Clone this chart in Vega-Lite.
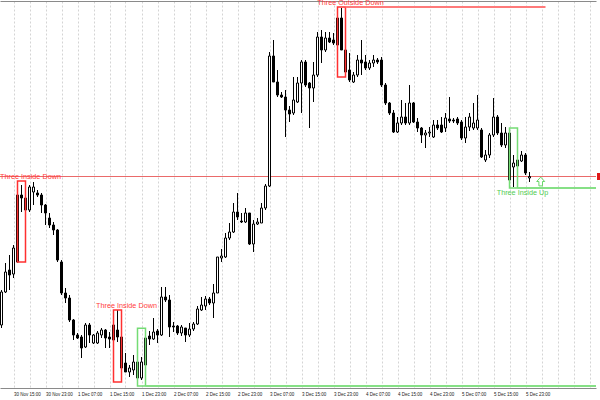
{
  "$schema": "https://vega.github.io/schema/vega-lite/v6.json",
  "width": 596,
  "height": 387,
  "autosize": {"type": "none"},
  "padding": {"left": 0, "top": 1, "right": 4, "bottom": 12},
  "background": "white",
  "config": {"view": {"stroke": null}, "legend": {"disable": true}},
  "resolve": {"axis": {"x": "independent"}},
  "datasets": {
    "candles": [
      {"t":"2025-11-30T12:00:00Z","o":1.2563,"h":1.2598,"l":1.2560,"c":1.2596},
      {"t":"2025-11-30T13:00:00Z","o":1.2596,"h":1.2625,"l":1.2595,"c":1.2616},
      {"t":"2025-11-30T14:00:00Z","o":1.2618,"h":1.2633,"l":1.2598,"c":1.2613},
      {"t":"2025-11-30T15:00:00Z","o":1.2614,"h":1.2643,"l":1.2610,"c":1.2640},
      {"t":"2025-11-30T16:00:00Z","o":1.2626,"h":1.2707,"l":1.26255,"c":1.2693},
      {"t":"2025-11-30T17:00:00Z","o":1.2693,"h":1.2703,"l":1.2676,"c":1.2690},
      {"t":"2025-11-30T18:00:00Z","o":1.2690,"h":1.2691,"l":1.2663,"c":1.2678},
      {"t":"2025-11-30T19:00:00Z","o":1.2678,"h":1.2703,"l":1.2676,"c":1.2701},
      {"t":"2025-11-30T20:00:00Z","o":1.2696,"h":1.2706,"l":1.2683,"c":1.2701},
      {"t":"2025-11-30T21:00:00Z","o":1.2695,"h":1.2698,"l":1.2691,"c":1.2693},
      {"t":"2025-11-30T22:00:00Z","o":1.2693,"h":1.2695,"l":1.2675,"c":1.2683},
      {"t":"2025-11-30T23:00:00Z","o":1.2683,"h":1.2684,"l":1.2663,"c":1.2675},
      {"t":"2025-12-01T00:00:00Z","o":1.2670,"h":1.2675,"l":1.2660,"c":1.2663},
      {"t":"2025-12-01T01:00:00Z","o":1.2663,"h":1.2666,"l":1.2653,"c":1.2658},
      {"t":"2025-12-01T02:00:00Z","o":1.2658,"h":1.2659,"l":1.2626,"c":1.2628},
      {"t":"2025-12-01T03:00:00Z","o":1.2626,"h":1.2628,"l":1.2593,"c":1.2595},
      {"t":"2025-12-01T04:00:00Z","o":1.2595,"h":1.2600,"l":1.2585,"c":1.2590},
      {"t":"2025-12-01T05:00:00Z","o":1.2590,"h":1.2593,"l":1.2566,"c":1.2568},
      {"t":"2025-12-01T06:00:00Z","o":1.2568,"h":1.2569,"l":1.2548,"c":1.2553},
      {"t":"2025-12-01T07:00:00Z","o":1.2553,"h":1.2555,"l":1.2549,"c":1.2550},
      {"t":"2025-12-01T08:00:00Z","o":1.2551,"h":1.2553,"l":1.2530,"c":1.2540},
      {"t":"2025-12-01T09:00:00Z","o":1.2541,"h":1.2565,"l":1.2540,"c":1.2563},
      {"t":"2025-12-01T10:00:00Z","o":1.2563,"h":1.2565,"l":1.2545,"c":1.2553},
      {"t":"2025-12-01T11:00:00Z","o":1.2545,"h":1.2554,"l":1.2544,"c":1.2553},
      {"t":"2025-12-01T12:00:00Z","o":1.2545,"h":1.2557,"l":1.2544,"c":1.2555},
      {"t":"2025-12-01T13:00:00Z","o":1.2553,"h":1.2560,"l":1.2550,"c":1.2558},
      {"t":"2025-12-01T14:00:00Z","o":1.2558,"h":1.2559,"l":1.2540,"c":1.2550},
      {"t":"2025-12-01T15:00:00Z","o":1.2551,"h":1.2556,"l":1.2540,"c":1.2549},
      {"t":"2025-12-01T16:00:00Z","o":1.2548,"h":1.2573,"l":1.2547,"c":1.2563},
      {"t":"2025-12-01T17:00:00Z","o":1.2558,"h":1.2578,"l":1.2546,"c":1.2551},
      {"t":"2025-12-01T18:00:00Z","o":1.2551,"h":1.2553,"l":1.2507,"c":1.2520},
      {"t":"2025-12-01T19:00:00Z","o":1.2525,"h":1.2535,"l":1.2516,"c":1.2516},
      {"t":"2025-12-01T20:00:00Z","o":1.2516,"h":1.2523,"l":1.2511,"c":1.2520},
      {"t":"2025-12-01T21:00:00Z","o":1.2518,"h":1.2533,"l":1.2513,"c":1.2526},
      {"t":"2025-12-01T22:00:00Z","o":1.2526,"h":1.2533,"l":1.2502,"c":1.2510},
      {"t":"2025-12-01T23:00:00Z","o":1.2510,"h":1.2531,"l":1.2508,"c":1.2526},
      {"t":"2025-12-02T00:00:00Z","o":1.2523,"h":1.2560,"l":1.2521,"c":1.2550},
      {"t":"2025-12-02T01:00:00Z","o":1.2552,"h":1.2557,"l":1.2543,"c":1.2549},
      {"t":"2025-12-02T02:00:00Z","o":1.2549,"h":1.2570,"l":1.2548,"c":1.2556},
      {"t":"2025-12-02T03:00:00Z","o":1.2557,"h":1.2559,"l":1.2545,"c":1.2553},
      {"t":"2025-12-02T04:00:00Z","o":1.2553,"h":1.2601,"l":1.2552,"c":1.2591},
      {"t":"2025-12-02T05:00:00Z","o":1.2591,"h":1.2601,"l":1.2586,"c":1.2588},
      {"t":"2025-12-02T06:00:00Z","o":1.2588,"h":1.2593,"l":1.2551,"c":1.2561},
      {"t":"2025-12-02T07:00:00Z","o":1.2562,"h":1.2566,"l":1.2556,"c":1.2561},
      {"t":"2025-12-02T08:00:00Z","o":1.2562,"h":1.2563,"l":1.2553,"c":1.2555},
      {"t":"2025-12-02T09:00:00Z","o":1.2555,"h":1.2563,"l":1.2552,"c":1.2561},
      {"t":"2025-12-02T10:00:00Z","o":1.2560,"h":1.2560,"l":1.2546,"c":1.2553},
      {"t":"2025-12-02T11:00:00Z","o":1.2553,"h":1.2565,"l":1.2551,"c":1.2559},
      {"t":"2025-12-02T12:00:00Z","o":1.2559,"h":1.2566,"l":1.2557,"c":1.2564},
      {"t":"2025-12-02T13:00:00Z","o":1.2564,"h":1.2582,"l":1.2563,"c":1.2579},
      {"t":"2025-12-02T14:00:00Z","o":1.2578,"h":1.2591,"l":1.2577,"c":1.2583},
      {"t":"2025-12-02T15:00:00Z","o":1.2582,"h":1.2592,"l":1.2578,"c":1.2589},
      {"t":"2025-12-02T16:00:00Z","o":1.2589,"h":1.2591,"l":1.2583,"c":1.2585},
      {"t":"2025-12-02T17:00:00Z","o":1.2585,"h":1.2604,"l":1.2570,"c":1.2595},
      {"t":"2025-12-02T18:00:00Z","o":1.2595,"h":1.2631,"l":1.2595,"c":1.2631},
      {"t":"2025-12-02T19:00:00Z","o":1.2630,"h":1.2639,"l":1.2626,"c":1.2632},
      {"t":"2025-12-02T20:00:00Z","o":1.2631,"h":1.2655,"l":1.2630,"c":1.2650},
      {"t":"2025-12-02T21:00:00Z","o":1.2650,"h":1.2665,"l":1.2648,"c":1.2656},
      {"t":"2025-12-02T22:00:00Z","o":1.2656,"h":1.2685,"l":1.2655,"c":1.2676},
      {"t":"2025-12-02T23:00:00Z","o":1.2676,"h":1.2695,"l":1.2668,"c":1.2671},
      {"t":"2025-12-03T00:00:00Z","o":1.2667,"h":1.2675,"l":1.2665,"c":1.2666},
      {"t":"2025-12-03T01:00:00Z","o":1.2666,"h":1.2680,"l":1.2665,"c":1.2675},
      {"t":"2025-12-03T02:00:00Z","o":1.2675,"h":1.2675,"l":1.2643,"c":1.2644},
      {"t":"2025-12-03T03:00:00Z","o":1.2644,"h":1.2668,"l":1.2636,"c":1.2664},
      {"t":"2025-12-03T04:00:00Z","o":1.2664,"h":1.2670,"l":1.2663,"c":1.2666},
      {"t":"2025-12-03T05:00:00Z","o":1.2665,"h":1.2685,"l":1.2665,"c":1.2680},
      {"t":"2025-12-03T06:00:00Z","o":1.2680,"h":1.2704,"l":1.2678,"c":1.2702},
      {"t":"2025-12-03T07:00:00Z","o":1.2702,"h":1.2836,"l":1.2701,"c":1.2832},
      {"t":"2025-12-03T08:00:00Z","o":1.2832,"h":1.2848,"l":1.2806,"c":1.2806},
      {"t":"2025-12-03T09:00:00Z","o":1.2806,"h":1.2818,"l":1.2791,"c":1.2793},
      {"t":"2025-12-03T10:00:00Z","o":1.2793,"h":1.2796,"l":1.2790,"c":1.2791},
      {"t":"2025-12-03T11:00:00Z","o":1.2791,"h":1.2798,"l":1.2751,"c":1.2778},
      {"t":"2025-12-03T12:00:00Z","o":1.2778,"h":1.2782,"l":1.2766,"c":1.2774},
      {"t":"2025-12-03T13:00:00Z","o":1.2775,"h":1.2811,"l":1.2773,"c":1.2788},
      {"t":"2025-12-03T14:00:00Z","o":1.2786,"h":1.2811,"l":1.2785,"c":1.2805},
      {"t":"2025-12-03T15:00:00Z","o":1.2805,"h":1.2828,"l":1.2775,"c":1.2826},
      {"t":"2025-12-03T16:00:00Z","o":1.2826,"h":1.2828,"l":1.2801,"c":1.2803},
      {"t":"2025-12-03T17:00:00Z","o":1.2805,"h":1.2806,"l":1.2760,"c":1.2800},
      {"t":"2025-12-03T18:00:00Z","o":1.2800,"h":1.2826,"l":1.2786,"c":1.2813},
      {"t":"2025-12-03T19:00:00Z","o":1.2813,"h":1.2856,"l":1.2811,"c":1.2851},
      {"t":"2025-12-03T20:00:00Z","o":1.2851,"h":1.2858,"l":1.2825,"c":1.2838},
      {"t":"2025-12-03T21:00:00Z","o":1.2838,"h":1.2856,"l":1.2836,"c":1.2850},
      {"t":"2025-12-03T22:00:00Z","o":1.2850,"h":1.2856,"l":1.2845,"c":1.2846},
      {"t":"2025-12-03T23:00:00Z","o":1.2848,"h":1.2855,"l":1.2843,"c":1.2845},
      {"t":"2025-12-04T00:00:00Z","o":1.2843,"h":1.2881,"l":1.2841,"c":1.2870},
      {"t":"2025-12-04T01:00:00Z","o":1.2870,"h":1.2880,"l":1.2838,"c":1.2838},
      {"t":"2025-12-04T02:00:00Z","o":1.2838,"h":1.2838,"l":1.2811,"c":1.2816},
      {"t":"2025-12-04T03:00:00Z","o":1.2818,"h":1.2835,"l":1.2806,"c":1.2808},
      {"t":"2025-12-04T04:00:00Z","o":1.2806,"h":1.2816,"l":1.2805,"c":1.2813},
      {"t":"2025-12-04T05:00:00Z","o":1.2813,"h":1.2833,"l":1.2811,"c":1.2828},
      {"t":"2025-12-04T06:00:00Z","o":1.2828,"h":1.2848,"l":1.2813,"c":1.2825},
      {"t":"2025-12-04T07:00:00Z","o":1.2826,"h":1.2833,"l":1.2818,"c":1.2820},
      {"t":"2025-12-04T08:00:00Z","o":1.2820,"h":1.2828,"l":1.2818,"c":1.2825},
      {"t":"2025-12-04T09:00:00Z","o":1.2825,"h":1.2833,"l":1.2821,"c":1.2828},
      {"t":"2025-12-04T10:00:00Z","o":1.2828,"h":1.2830,"l":1.2824,"c":1.2826},
      {"t":"2025-12-04T11:00:00Z","o":1.2828,"h":1.2831,"l":1.2801,"c":1.2803},
      {"t":"2025-12-04T12:00:00Z","o":1.2803,"h":1.2805,"l":1.2783,"c":1.2785},
      {"t":"2025-12-04T13:00:00Z","o":1.2785,"h":1.2786,"l":1.2773,"c":1.2775},
      {"t":"2025-12-04T14:00:00Z","o":1.2775,"h":1.2778,"l":1.2755,"c":1.2756},
      {"t":"2025-12-04T15:00:00Z","o":1.2756,"h":1.2771,"l":1.2755,"c":1.2765},
      {"t":"2025-12-04T16:00:00Z","o":1.2765,"h":1.2788,"l":1.2763,"c":1.2771},
      {"t":"2025-12-04T17:00:00Z","o":1.2771,"h":1.2785,"l":1.2763,"c":1.2765},
      {"t":"2025-12-04T18:00:00Z","o":1.2765,"h":1.2803,"l":1.2763,"c":1.2785},
      {"t":"2025-12-04T19:00:00Z","o":1.2785,"h":1.2786,"l":1.2765,"c":1.2766},
      {"t":"2025-12-04T20:00:00Z","o":1.2766,"h":1.2770,"l":1.2756,"c":1.2760},
      {"t":"2025-12-04T21:00:00Z","o":1.2760,"h":1.2761,"l":1.2745,"c":1.2753},
      {"t":"2025-12-04T22:00:00Z","o":1.2753,"h":1.2758,"l":1.2740,"c":1.2755},
      {"t":"2025-12-04T23:00:00Z","o":1.2755,"h":1.2761,"l":1.2751,"c":1.2756},
      {"t":"2025-12-05T00:00:00Z","o":1.2751,"h":1.2768,"l":1.2750,"c":1.2763},
      {"t":"2025-12-05T01:00:00Z","o":1.2763,"h":1.2768,"l":1.2758,"c":1.2760},
      {"t":"2025-12-05T02:00:00Z","o":1.2763,"h":1.2771,"l":1.2755,"c":1.2756},
      {"t":"2025-12-05T03:00:00Z","o":1.2760,"h":1.2775,"l":1.2756,"c":1.2770},
      {"t":"2025-12-05T04:00:00Z","o":1.2769,"h":1.2791,"l":1.2765,"c":1.2767},
      {"t":"2025-12-05T05:00:00Z","o":1.2768,"h":1.2770,"l":1.2765,"c":1.2767},
      {"t":"2025-12-05T06:00:00Z","o":1.2769,"h":1.2771,"l":1.2763,"c":1.2765},
      {"t":"2025-12-05T07:00:00Z","o":1.2766,"h":1.2768,"l":1.2748,"c":1.2750},
      {"t":"2025-12-05T08:00:00Z","o":1.2750,"h":1.2771,"l":1.2745,"c":1.2761},
      {"t":"2025-12-05T09:00:00Z","o":1.2761,"h":1.2775,"l":1.2757,"c":1.2771},
      {"t":"2025-12-05T10:00:00Z","o":1.2760,"h":1.2785,"l":1.2758,"c":1.2765},
      {"t":"2025-12-05T11:00:00Z","o":1.2760,"h":1.2793,"l":1.2758,"c":1.2768},
      {"t":"2025-12-05T12:00:00Z","o":1.2758,"h":1.2760,"l":1.2730,"c":1.2731},
      {"t":"2025-12-05T13:00:00Z","o":1.2728,"h":1.2738,"l":1.2726,"c":1.2733},
      {"t":"2025-12-05T14:00:00Z","o":1.2733,"h":1.2755,"l":1.2730,"c":1.2753},
      {"t":"2025-12-05T15:00:00Z","o":1.2753,"h":1.2790,"l":1.2751,"c":1.2771},
      {"t":"2025-12-05T16:00:00Z","o":1.2771,"h":1.2773,"l":1.2753,"c":1.2755},
      {"t":"2025-12-05T17:00:00Z","o":1.2755,"h":1.2765,"l":1.2741,"c":1.2743},
      {"t":"2025-12-05T18:00:00Z","o":1.2743,"h":1.2761,"l":1.2740,"c":1.2755},
      {"t":"2025-12-05T19:00:00Z","o":1.2755,"h":1.2760,"l":1.2700,"c":1.2708},
      {"t":"2025-12-05T20:00:00Z","o":1.2721,"h":1.2733,"l":1.2701,"c":1.2725},
      {"t":"2025-12-05T21:00:00Z","o":1.2722,"h":1.2731,"l":1.2720,"c":1.2728},
      {"t":"2025-12-05T22:00:00Z","o":1.2727,"h":1.2737,"l":1.2726,"c":1.2733},
      {"t":"2025-12-05T23:00:00Z","o":1.2733,"h":1.2735,"l":1.2713,"c":1.2715},
      {"t":"2025-12-06T00:00:00Z","o":1.2710,"h":1.2716,"l":1.2706,"c":1.27115}
    ],
    "patterns": [
      {"name":"Three Inside Down","kind":"bear","t1":"2025-11-30T16:00:00Z","t2":"2025-11-30T18:00:00Z","hi":1.2707,"lo":1.2626},
      {"name":"Three Inside Down","kind":"bear","t1":"2025-12-01T16:00:00Z","t2":"2025-12-01T18:00:00Z","hi":1.2578,"lo":1.2506},
      {"name":"Three Inside Up","kind":"bull","t1":"2025-12-01T22:00:00Z","t2":"2025-12-02T00:00:00Z","hi":1.25597,"lo":1.2502},
      {"name":"Three Outside Down","kind":"bear","t1":"2025-12-04T00:00:00Z","t2":"2025-12-04T02:00:00Z","hi":1.2881,"lo":1.2811},
      {"name":"Three Inside Up","kind":"bull","t1":"2025-12-05T19:00:00Z","t2":"2025-12-05T21:00:00Z","hi":1.2760,"lo":1.2700}
    ],
    "levels": [
      {"kind":"bear","from":"2025-12-04T02:00:00Z","to":"2025-12-06T04:00:00Z","level":1.2881},
      {"kind":"bull","from":"2025-12-02T00:00:00Z","to":"2025-12-06T18:00:00Z","level":1.2502},
      {"kind":"bull","from":"2025-12-05T21:00:00Z","to":"2025-12-06T18:00:00Z","level":1.2700}
    ],
    "signals": [
      {"t":"2025-12-06T02:48:00Z","p":1.27065}
    ],
    "bid": [
      {"t":"2025-12-06T18:07:30Z","bid":1.27115}
    ]
  },
  "layer": [
    {
      "data": {"name": "bid"},
      "mark": {"type": "rule", "color": "#ea6a6a", "strokeWidth": 1},
      "encoding": {
        "y": {
          "field": "bid", "type": "quantitative",
          "scale": {"domain": [1.25, 1.2887], "nice": false, "zero": false, "padding": 0},
          "axis": {
            "orient": "right", "title": null, "labels": false,
            "ticks": true, "tickSize": 3, "tickColor": "#666",
            "domain": true, "domainColor": "#8a8a8a",
            "grid": true, "gridColor": "#d4d4d4", "gridDash": [2, 2], "gridWidth": 1,
            "tickCount": 100,
            "values": [1.2882, 1.286607, 1.285014, 1.283421, 1.281828, 1.280235, 1.278642, 1.277049, 1.275456, 1.273863, 1.27227, 1.270677, 1.269084, 1.267491, 1.265898, 1.264305, 1.262712, 1.261119, 1.259526, 1.257933, 1.25634, 1.254747, 1.253154, 1.251561]
          }
        }
      }
    },
    {
      "data": {"name": "candles"},
      "mark": {"type": "rule", "color": "#000000", "strokeWidth": 1},
      "encoding": {
        "x": {
          "field": "t", "type": "temporal",
          "scale": {"type": "utc", "nice": false, "padding": 0, "domain": [
            {"year": 2025, "month": 11, "date": 30, "hours": 11, "minutes": 37, "seconds": 30, "utc": true},
            {"year": 2025, "month": 12, "date": 6, "hours": 16, "minutes": 37, "seconds": 30, "utc": true}
          ]},
          "axis": {"orient": "top", "title": null, "labels": false, "ticks": false, "grid": false, "domain": true, "domainColor": "#8a8a8a"}
        },
        "y": {"field": "l", "type": "quantitative", "axis": null},
        "y2": {"field": "h"}
      }
    },
    {
      "data": {"name": "candles"},
      "mark": {"type": "bar", "size": 2, "stroke": "#000000", "strokeWidth": 1},
      "encoding": {
        "x": {
          "field": "t", "type": "temporal",
          "axis": {
            "orient": "bottom", "title": null,
            "domain": true, "domainColor": "#8a8a8a",
            "ticks": false,
            "grid": true, "gridColor": "#d4d4d4", "gridDash": [2, 2], "gridWidth": 1,
            "labelFont": "Liberation Sans", "labelFontSize": 4.5, "labelColor": "#222222",
            "labelAlign": "left", "labelPadding": 3.5, "labelOverlap": false, "labelBound": false, "labelFlush": false,
            "tickCount": 200,
            "labelExpr": "(utchours(datum.value) % 8 == 7 && datum.value < utc(2025, 11, 6)) ? utcFormat(datum.value, '%-d %b %H:%M') : ''",
            "values": [
              {"year":2025,"month":11,"date":30,"hours":15,"utc":true},
              {"year":2025,"month":11,"date":30,"hours":19,"utc":true},
              {"year":2025,"month":11,"date":30,"hours":23,"utc":true},
              {"year":2025,"month":12,"date":1,"hours":3,"utc":true},
              {"year":2025,"month":12,"date":1,"hours":7,"utc":true},
              {"year":2025,"month":12,"date":1,"hours":11,"utc":true},
              {"year":2025,"month":12,"date":1,"hours":15,"utc":true},
              {"year":2025,"month":12,"date":1,"hours":19,"utc":true},
              {"year":2025,"month":12,"date":1,"hours":23,"utc":true},
              {"year":2025,"month":12,"date":2,"hours":3,"utc":true},
              {"year":2025,"month":12,"date":2,"hours":7,"utc":true},
              {"year":2025,"month":12,"date":2,"hours":11,"utc":true},
              {"year":2025,"month":12,"date":2,"hours":15,"utc":true},
              {"year":2025,"month":12,"date":2,"hours":19,"utc":true},
              {"year":2025,"month":12,"date":2,"hours":23,"utc":true},
              {"year":2025,"month":12,"date":3,"hours":3,"utc":true},
              {"year":2025,"month":12,"date":3,"hours":7,"utc":true},
              {"year":2025,"month":12,"date":3,"hours":11,"utc":true},
              {"year":2025,"month":12,"date":3,"hours":15,"utc":true},
              {"year":2025,"month":12,"date":3,"hours":19,"utc":true},
              {"year":2025,"month":12,"date":3,"hours":23,"utc":true},
              {"year":2025,"month":12,"date":4,"hours":3,"utc":true},
              {"year":2025,"month":12,"date":4,"hours":7,"utc":true},
              {"year":2025,"month":12,"date":4,"hours":11,"utc":true},
              {"year":2025,"month":12,"date":4,"hours":15,"utc":true},
              {"year":2025,"month":12,"date":4,"hours":19,"utc":true},
              {"year":2025,"month":12,"date":4,"hours":23,"utc":true},
              {"year":2025,"month":12,"date":5,"hours":3,"utc":true},
              {"year":2025,"month":12,"date":5,"hours":7,"utc":true},
              {"year":2025,"month":12,"date":5,"hours":11,"utc":true},
              {"year":2025,"month":12,"date":5,"hours":15,"utc":true},
              {"year":2025,"month":12,"date":5,"hours":19,"utc":true},
              {"year":2025,"month":12,"date":5,"hours":23,"utc":true},
              {"year":2025,"month":12,"date":6,"hours":3,"utc":true},
              {"year":2025,"month":12,"date":6,"hours":7,"utc":true},
              {"year":2025,"month":12,"date":6,"hours":11,"utc":true},
              {"year":2025,"month":12,"date":6,"hours":15,"utc":true}
            ]
          }
        },
        "y": {"field": "o", "type": "quantitative", "axis": null},
        "y2": {"field": "c"},
        "fill": {"condition": {"test": "datum.c > datum.o", "value": "#ffffff"}, "value": "#000000"}
      }
    },
    {
      "data": {"name": "patterns"},
      "mark": {"type": "rect", "fillOpacity": 0, "strokeWidth": 1.5, "clip": true},
      "encoding": {
        "x": {"field": "t1", "type": "temporal", "axis": null},
        "x2": {"field": "t2"},
        "y": {"field": "hi", "type": "quantitative", "axis": null},
        "y2": {"field": "lo"},
        "stroke": {"condition": {"test": "datum.kind == 'bear'", "value": "#ff3030"}, "value": "#74dc74"}
      }
    },
    {
      "data": {"name": "levels"},
      "mark": {"type": "rule", "strokeWidth": 2, "clip": true},
      "encoding": {
        "x": {"field": "from", "type": "temporal", "axis": null},
        "x2": {"field": "to"},
        "y": {"field": "level", "type": "quantitative", "axis": null},
        "color": {"condition": {"test": "datum.kind == 'bear'", "value": "#ff7a7a"}, "value": "#86e086"}
      }
    },
    {
      "data": {"name": "patterns"},
      "transform": [{"filter": "datum.kind == 'bear'"}],
      "mark": {"type": "text", "align": "center", "baseline": "middle", "dx": 13, "dy": -4.5, "font": "Liberation Sans", "fontSize": 7.25, "color": "#ff3c3c"},
      "encoding": {
        "x": {"field": "t1", "type": "temporal", "axis": null},
        "y": {"field": "hi", "type": "quantitative", "axis": null},
        "text": {"field": "name"}
      }
    },
    {
      "data": {"name": "patterns"},
      "transform": [{"filter": "datum.kind == 'bull'"}],
      "mark": {"type": "text", "align": "center", "baseline": "middle", "dx": 13, "dy": 4.5, "font": "Liberation Sans", "fontSize": 7.25, "color": "#50cc50", "clip": true},
      "encoding": {
        "x": {"field": "t1", "type": "temporal", "axis": null},
        "y": {"field": "lo", "type": "quantitative", "axis": null},
        "text": {"field": "name"}
      }
    },
    {
      "data": {"name": "signals"},
      "mark": {"type": "point", "shape": "M0,-1.1L1,0L0.45,0L0.45,1.1L-0.45,1.1L-0.45,0L-1,0Z", "size": 64, "filled": false, "stroke": "#6ad86a", "strokeWidth": 1, "opacity": 1},
      "encoding": {
        "x": {"field": "t", "type": "temporal", "axis": null},
        "y": {"field": "p", "type": "quantitative", "axis": null}
      }
    },
    {
      "data": {"name": "bid"},
      "mark": {"type": "point", "shape": "M-1,-0.7L1,-0.7L1,0.7L-1,0.7Z", "size": 100, "filled": true, "fill": "#e01818", "stroke": null, "opacity": 1, "clip": false},
      "encoding": {
        "x": {"field": "t", "type": "temporal", "axis": null},
        "y": {"field": "bid", "type": "quantitative", "axis": null}
      }
    }
  ]
}
